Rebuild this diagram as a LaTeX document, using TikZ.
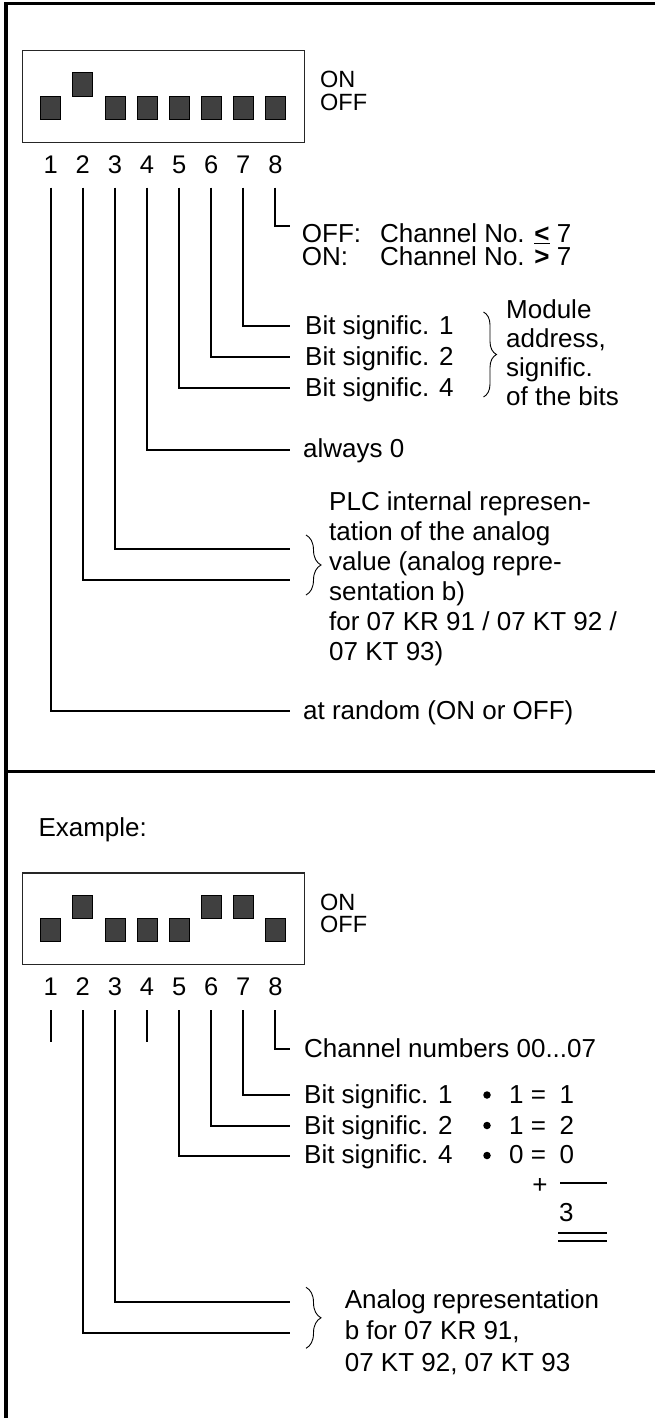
\documentclass[tikz,border=0pt]{standalone}
\usepackage{fontspec}
\setmainfont{Liberation Sans}
\usetikzlibrary{decorations.pathreplacing}
\definecolor{knobgray}{HTML}{404040}

% one DIP switch block: #1 name prefix, #2 top edge of the case, #3 switch states (1 = ON)
\newcommand\dipblock[3]{%
  \node[casebox, minimum width=281.7pt, minimum height=91.7pt, anchor=north west] (#1box) at (22,#2) {};
  \foreach \s [count=\i] in {#3} {
    \pgfmathsetmacro\cx{50.7+32.1*(\i-1)}
    \pgfmathsetmacro\ty{#2+45.7-23.4*\s}
    \node[knob, anchor=north] (#1k\i) at (\cx,\ty) {};
    \node[num] (#1n\i) at (\cx,#2+123) {\i};
    \coordinate (#1t\i) at (\cx,#2+137.7);
  }
  \node[onoff] (#1state) at (320,#2+38) {\begin{tabular}[t]{@{}l@{}}ON\\OFF\end{tabular}};
}

\begin{document}
\begin{tikzpicture}[x=1pt,y=-1pt,
  frame/.style={line width=3.2pt},
  lead/.style={line width=2pt},
  casebox/.style={draw=black!85, line width=1.2pt, inner sep=0pt},
  knob/.style={draw=black, fill=knobgray, line width=0.8pt, minimum width=20pt, minimum height=23.3pt, inner sep=0pt},
  lbl/.style={inner sep=0pt, anchor=base west, font=\fontsize{26}{30}\selectfont},
  num/.style={inner sep=0pt, anchor=base, font=\fontsize{25.5}{30}\selectfont},
  onoff/.style={inner sep=0pt, anchor=base west, font=\fontsize{23.5}{19}\selectfont},
  dot/.style={circle, fill=black, inner sep=0pt, minimum size=7.5pt},
  curly/.style={decorate, decoration={brace, amplitude=#1}, line width=0.9pt},
]
\useasboundingbox (0,0) rectangle (655,1418);

% outer frame and separator
\draw[frame, line join=miter] (6,1425) -- (6,3.5) -- (662,3.5);
\draw[frame] (6,771.7) -- (662,771.7);

% ---------------- upper part: meaning of the switches ----------------
\dipblock{A}{50}{0,1,0,0,0,0,0,0}

\coordinate (Ae8) at (290,226);
\coordinate (Ae7) at (290,326);
\coordinate (Ae6) at (290,357);
\coordinate (Ae5) at (290,388);
\coordinate (Ae4) at (290,449.5);
\coordinate (Ae3) at (290,549);
\coordinate (Ae2) at (290,580.3);
\coordinate (Ae1) at (290,711);
\foreach \i in {1,...,8} \draw[lead] (At\i) |- (Ae\i);

\node[lbl] (Aoff) at (301.7,242) {\makebox[78.3pt][l]{OFF:}Channel No. \underline{\textbf{<}} 7};
\node[lbl] (Aon)  at (301.7,265.5) {\makebox[78.3pt][l]{ON:}Channel No. \textbf{>} 7};

\node[lbl] (Ab1) at (305,334) {Bit signific. 1};
\node[lbl] (Ab2) at (305,365) {Bit signific. 2};
\node[lbl] (Ab4) at (305,396) {Bit signific. 4};
\draw[curly=13pt] (483.5,312) -- (483.5,397);
\node[lbl, font=\fontsize{26}{29}\selectfont] (Amod) at (506,318)
  {\begin{tabular}[t]{@{}l@{}}Module\\address,\\signific.\\of the bits\end{tabular}};

\node[lbl] (Azero) at (303,457.5) {always 0};

\draw[curly=15pt] (306,535) -- (306,595);
\node[lbl] (Aplc) at (329,510)
  {\begin{tabular}[t]{@{}l@{}}PLC internal represen-\\tation of the analog\\value (analog repre-\\sentation b)\\for 07 KR 91 / 07 KT 92 /\\07 KT 93)\end{tabular}};

\node[lbl] (Arnd) at (303,719) {at random (ON or OFF)};

% ---------------- lower part: example setting ----------------
\node[lbl] (ex) at (38.3,836.7) {Example:};
\dipblock{B}{872.3}{0,1,0,0,0,1,1,0}

\coordinate (Bs1) at (50.7,1041.7);
\coordinate (Bs4) at (147,1041.7);
\draw[lead] (Bt1) -- (Bs1);
\draw[lead] (Bt4) -- (Bs4);

\coordinate (Be8) at (290,1049.3);
\coordinate (Be7) at (290,1095);
\coordinate (Be6) at (290,1126);
\coordinate (Be5) at (290,1155.7);
\coordinate (Be3) at (290,1302.3);
\coordinate (Be2) at (290,1333.3);
\foreach \i in {2,3,5,6,7,8} \draw[lead] (Bt\i) |- (Be\i);

\node[lbl] (Bch) at (304,1057.3) {Channel numbers 00...07};

\node[lbl] (Bb1) at (304,1103) {Bit signific. 1};
\node[lbl] (Bb2) at (304,1134) {Bit signific. 2};
\node[lbl] (Bb4) at (304,1163.7) {Bit signific. 4};

\node[dot] (Bd1) at (487,1095) {};
\node[dot] (Bd2) at (487,1125.5) {};
\node[dot] (Bd4) at (487,1155.5) {};
\node[lbl] (Bm1) at (509,1103) {1 =\hspace{13.5pt}1};
\node[lbl] (Bm2) at (509,1134) {1 =\hspace{13.5pt}2};
\node[lbl] (Bm4) at (509,1163.7) {0 =\hspace{13.5pt}0};

\node[lbl, anchor=base] (Bplus) at (540,1193) {+};
\coordinate (sumL) at (560,1182.7);
\coordinate (sumR) at (606.7,1182.7);
\draw[lead] (sumL) -- (sumR);
\node[lbl] (Bsum) at (559,1221.7) {3};
\coordinate (dblL1) at (558,1232.7);
\coordinate (dblR1) at (606.7,1232.7);
\coordinate (dblL2) at (558,1241);
\coordinate (dblR2) at (606.7,1241);
\draw[lead] (dblL1) -- (dblR1);
\draw[lead] (dblL2) -- (dblR2);

\draw[curly=15pt] (306,1287.3) -- (306,1348.3);
\node[lbl, font=\fontsize{26}{31.5}\selectfont] (Bana) at (344.6,1308.3)
  {\begin{tabular}[t]{@{}l@{}}Analog representation\\b for 07 KR 91,\\07 KT 92, 07 KT 93\end{tabular}};
\end{tikzpicture}
\end{document}
